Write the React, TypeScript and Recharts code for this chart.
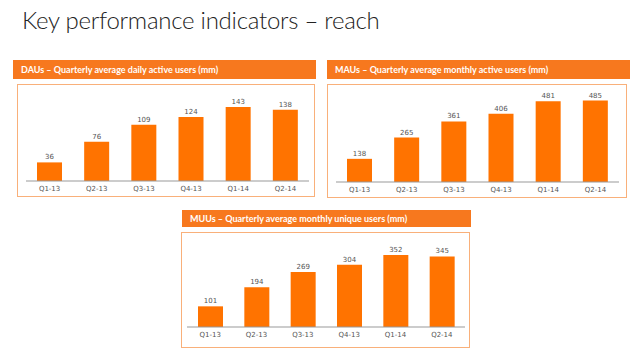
import React from 'react';
import { BarChart, Bar, XAxis, YAxis, LabelList } from 'recharts';

const quarters = ['Q1-13', 'Q2-13', 'Q3-13', 'Q4-13', 'Q1-14', 'Q2-14'];
const dauValues = [36, 76, 109, 124, 143, 138];
const mauValues = [138, 265, 361, 406, 481, 485];
const muuValues = [101, 194, 269, 304, 352, 345];

const ORANGE = '#ff7300';
const HEADER = '#f7781e';
const BORDER = '#f9b07a';

type PanelProps = {
  title: string;
  values: number[];
  max: number;
  header: { left: number; top: number; width: number; height: number };
  box: { left: number; top: number; width: number; height: number };
  margin: { top: number; right: number; bottom: number; left: number };
};

const Panel = ({ title, values, max, header, box, margin }: PanelProps) => {
  const data = quarters.map((q, i) => ({ q, v: values[i] }));
  return (
    <>
      <div
        style={{
          position: 'absolute',
          ...header,
          background: HEADER,
          color: '#fff',
          fontFamily: 'Lato, sans-serif',
          fontSize: 9,
          fontWeight: 700,
          lineHeight: header.height + 'px',
          paddingLeft: 8,
          boxSizing: 'border-box',
          whiteSpace: 'nowrap',
        }}
      >
        {title}
      </div>
      <div
        style={{
          position: 'absolute',
          ...box,
          border: '1px solid ' + BORDER,
          boxSizing: 'border-box',
        }}
      />
      <div style={{ position: 'absolute', left: box.left, top: box.top }}>
        <BarChart width={box.width} height={box.height} data={data} margin={margin}>
          <XAxis
            dataKey="q"
            axisLine={{ stroke: '#999' }}
            tickLine={false}
            tickSize={3}
            tickMargin={2}
            height={14}
            interval={0}
            tick={{ fontSize: 7, fill: '#555', fontFamily: 'DejaVu Sans, sans-serif' }}
          />
          <YAxis hide domain={[0, max]} />
          <Bar dataKey="v" fill={ORANGE} barSize={25} isAnimationActive={false}>
            <LabelList
              dataKey="v"
              position="top"
              offset={3}
              style={{ fontSize: 7, fill: '#555', fontFamily: 'DejaVu Sans, sans-serif' }}
            />
          </Bar>
        </BarChart>
      </div>
    </>
  );
};

const App = () => {
  return (
    <div style={{ position: 'absolute', left: 0, top: 0, width: 640, height: 357, background: '#fff', overflow: 'hidden' }}>
      <div
        style={{
          position: 'absolute',
          left: 22,
          top: 5,
          fontFamily: 'Lato, sans-serif',
          fontWeight: 300,
          fontSize: 24,
          letterSpacing: -0.25,
          color: '#222',
          whiteSpace: 'nowrap',
        }}
      >
        Key performance indicators – reach
      </div>
      <Panel
        title="DAUs – Quarterly average daily active users (mm)"
        values={dauValues}
        max={180}
        header={{ left: 13, top: 60, width: 303, height: 19 }}
        box={{ left: 17, top: 84, width: 298, height: 113 }}
        margin={{ top: 4, right: 6, bottom: 2, left: 9 }}
      />
      <Panel
        title="MAUs – Quarterly average monthly active users (mm)"
        values={mauValues}
        max={560}
        header={{ left: 327, top: 60, width: 303, height: 19 }}
        box={{ left: 327, top: 84, width: 300, height: 114 }}
        margin={{ top: 4, right: 8, bottom: 2, left: 9 }}
      />
      <Panel
        title="MUUs – Quarterly average monthly unique users (mm)"
        values={muuValues}
        max={440}
        header={{ left: 182, top: 210, width: 289, height: 17 }}
        box={{ left: 181, top: 232, width: 289, height: 116 }}
        margin={{ top: 5, right: 5, bottom: 7, left: 6 }}
      />
    </div>
  );
};

export default App;
